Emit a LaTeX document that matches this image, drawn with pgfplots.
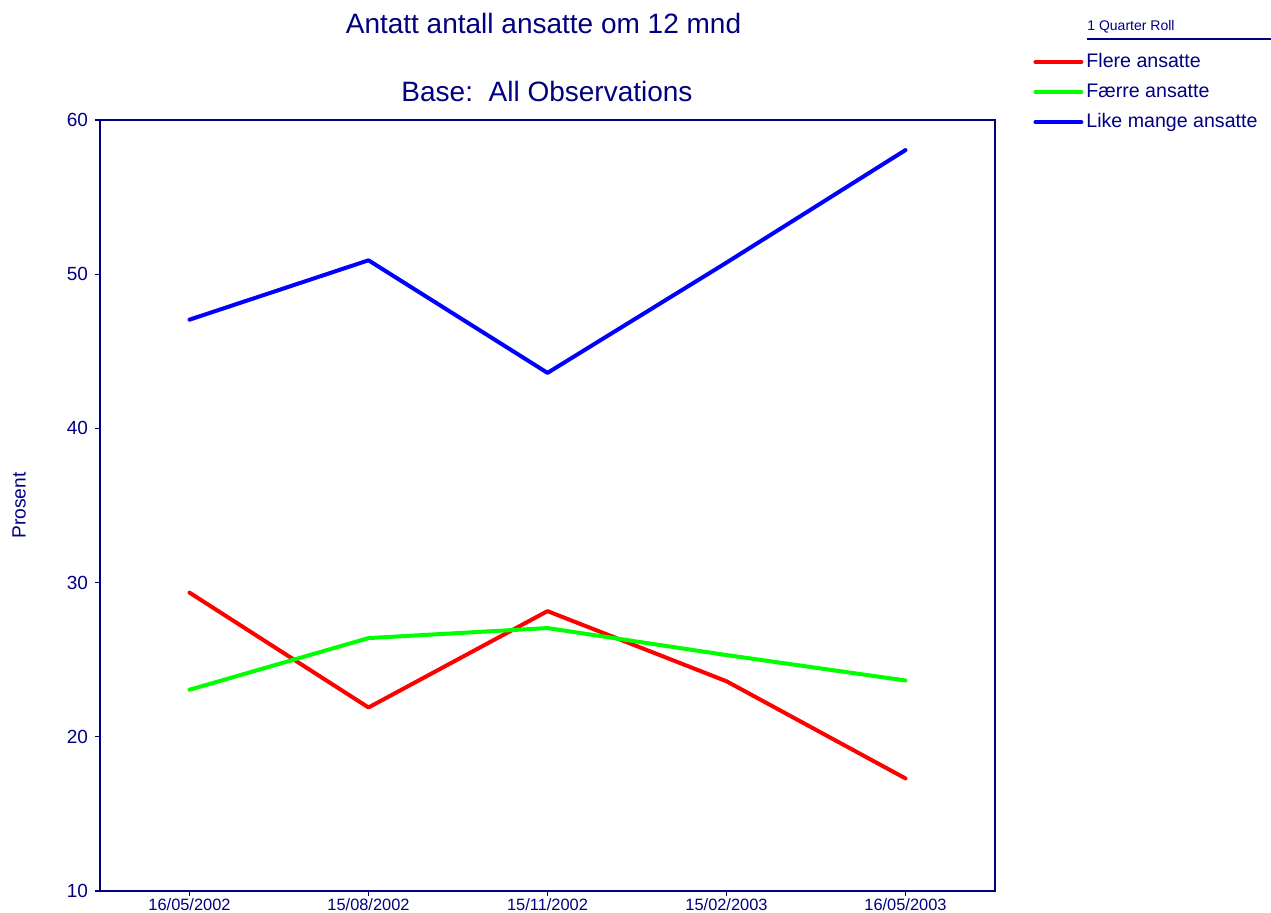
\documentclass[border=0pt]{standalone}
\usepackage{pgfplots}
\pgfplotsset{compat=1.18}
\usepackage{fontspec}
\setmainfont{Liberation Sans}
\definecolor{navy}{RGB}{0,0,128}
\definecolor{pred}{RGB}{255,0,0}
\definecolor{pgreen}{RGB}{0,255,0}
\definecolor{pblue}{RGB}{0,0,255}
\begin{document}
\begin{tikzpicture}[x=1pt,y=1pt]
\useasboundingbox (0,0) rectangle (635.5,456.5);
\begin{axis}[
  at={(50pt,11pt)}, anchor=south west,
  scale only axis, width=447.5pt, height=385.5pt,
  xmin=-0.5, xmax=4.5, ymin=10, ymax=60,
  xtick={0,1,2,3,4},
  xticklabels={16/05/2002,15/08/2002,15/11/2002,15/02/2003,16/05/2003},
  ytick={10,20,30,40,50,60},
  tick align=outside, tick pos=left,
  major tick length=2.5pt,
  axis line style={navy, line width=0.8pt},
  every tick/.style={navy, line width=0.6pt},
  tick label style={text=navy},
  yticklabel style={font=\fontsize{9.5}{11}\selectfont},
  xticklabel style={font=\fontsize{8.2}{9.5}\selectfont, yshift=2pt},
  /pgf/number format/assume math mode=true,
  ylabel={Prosent},
  ylabel style={at={(axis description cs:-0.0905,0.5)}, anchor=center, rotate=0, font=\fontsize{9.6}{11}\selectfont, text=navy},
  legend style={at={(axis description cs:1.0425,1.0906)}, anchor=north west, draw=none, fill=none,
     font=\fontsize{9.8}{11}\selectfont, text=navy, row sep=3.6pt, inner sep=0pt, nodes={inner sep=1.5pt}},
  legend cell align=left,
  legend image code/.code={\draw[#1, line width=2pt, line cap=round] (0pt,0pt) -- (23pt,0pt);},
]
\addplot[pred, line width=2pt, line cap=round, line join=round] coordinates {(0,29.35) (1,21.9) (2,28.15) (3,23.6) (4,17.3)};
\addlegendentry{Flere ansatte}
\addplot[pgreen, line width=2pt, line cap=round, line join=round] coordinates {(0,23.05) (1,26.4) (2,27.05) (3,25.3) (4,23.65)};
\addlegendentry{Færre ansatte}
\addplot[pblue, line width=2pt, line cap=round, line join=round] coordinates {(0,47.05) (1,50.9) (2,43.6) (3,50.75) (4,58.05)};
\addlegendentry{Like mange ansatte}
\end{axis}
\node[text=navy, font=\fontsize{14}{16}\selectfont] at (271.75,444.5) {Antatt antall ansatte om 12 mnd};
\node[text=navy, font=\fontsize{14}{16}\selectfont] at (273.5,410.5) {Base:\ \ All Observations};
\node[text=navy, font=\fontsize{7}{8}\selectfont, anchor=west, inner sep=0pt] at (543.5,443) {1 Quarter Roll};
\draw[navy, line width=0.6pt] (543.5,437) -- (635.5,437);
\end{tikzpicture}
\end{document}
